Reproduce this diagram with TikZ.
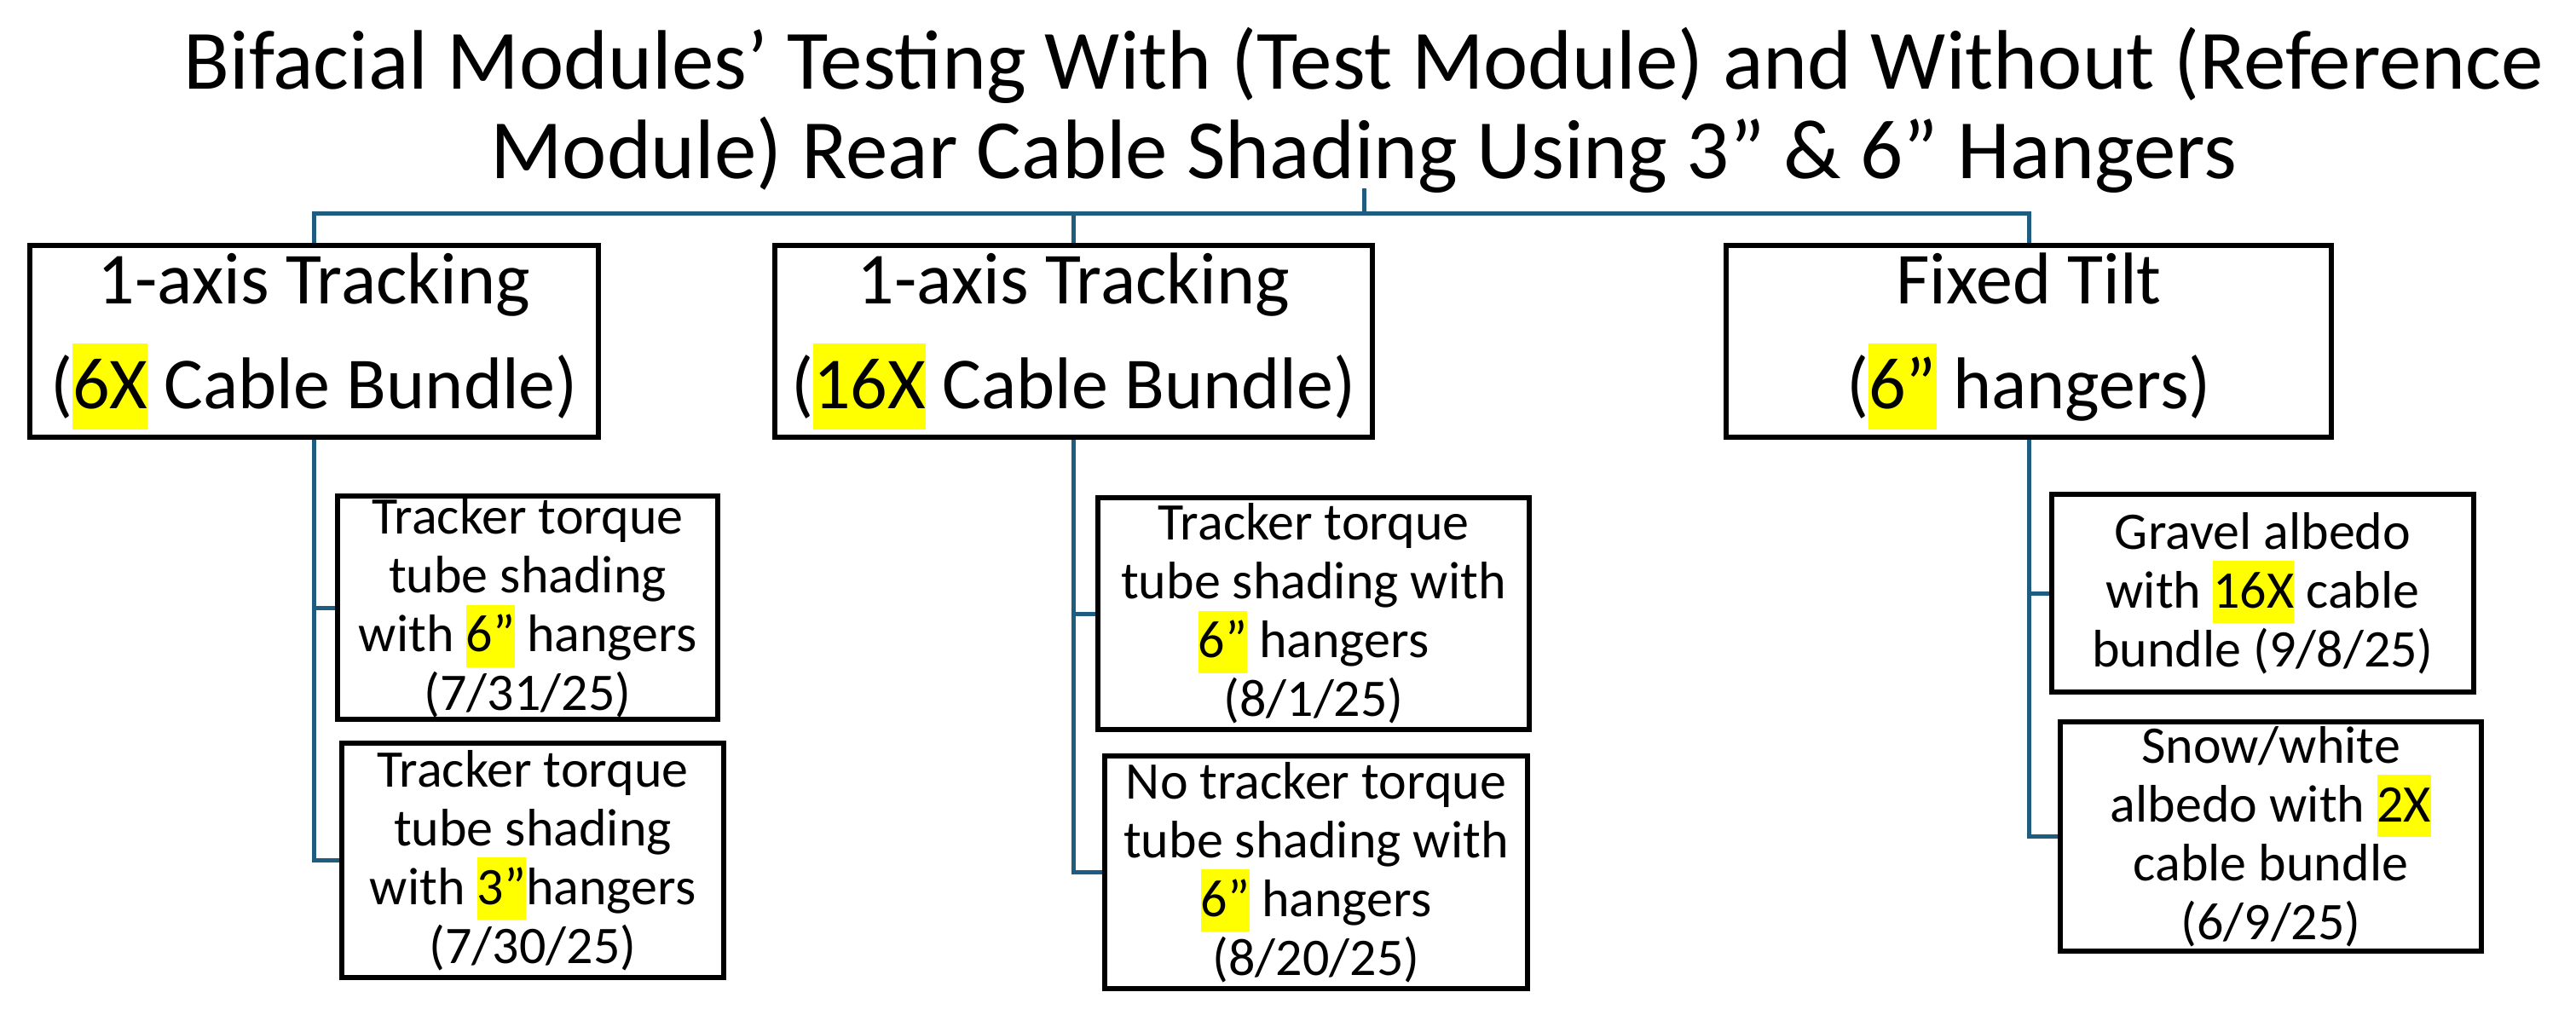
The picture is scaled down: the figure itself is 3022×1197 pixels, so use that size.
\documentclass[tikz,border=0pt]{standalone}
\usepackage{fontspec}
\setmainfont{Carlito}
\definecolor{conncol}{RGB}{31,93,128}
\definecolor{hly}{RGB}{255,255,0}
\newcommand{\hlbox}[1]{{\setlength{\fboxsep}{0pt}\colorbox{hly}{\rule[-0.29em]{0pt}{1.18em}#1}}}
\begin{document}
\begin{tikzpicture}[x=1pt,y=-1pt,
  conn/.style={draw=conncol, line width=5pt},
  parentbox/.style={draw=black, line width=6.5pt, fill=white, align=center, inner sep=0pt, font=\fontsize{86}{123}\selectfont},
  childbox/.style={draw=black, line width=6pt, fill=white, align=center, inner sep=0pt, font=\fontsize{62}{69}\selectfont},
  titletext/.style={align=center, inner sep=0pt, font=\fontsize{99}{105}\selectfont, text depth=11pt}]
\useasboundingbox (0,0) rectangle (3022,1197);

\node[titletext, anchor=south] (title) at (1600,221)
  {Bifacial Modules’ Testing With (Test Module) and Without (Reference\\Module) Rear Cable Shading Using 3” \& 6” Hangers};

\node[parentbox, minimum width=667pt, minimum height=225pt] (p1) at (368.5,400.5)
  {1-axis Tracking\\(\hlbox{6X} Cable Bundle)};
\node[parentbox, minimum width=701pt, minimum height=225pt] (p2) at (1259.5,400.5)
  {1-axis Tracking\\(\hlbox{16X} Cable Bundle)};
\node[parentbox, minimum width=710pt, minimum height=225pt] (p3) at (2380,400.5)
  {Fixed Tilt\\(\hlbox{6”} hangers)};

\node[childbox, minimum width=446pt, minimum height=262pt] (a1) at (619,713)
  {Tracker torque\\tube shading\\with \hlbox{6”} hangers\\(7/31/25)};
\node[childbox, minimum width=448pt, minimum height=275pt] (a2) at (625,1009.5)
  {Tracker torque\\tube shading\\with \hlbox{3”}hangers\\(7/30/25)};
\node[childbox, minimum width=506pt, minimum height=272pt] (b1) at (1541,720)
  {Tracker torque\\tube shading with\\\hlbox{6”} hangers\\(8/1/25)};
\node[childbox, minimum width=496pt, minimum height=273pt] (b2) at (1544,1023.5)
  {No tracker torque\\tube shading with\\\hlbox{6”} hangers\\(8/20/25)};
\node[childbox, minimum width=495pt, minimum height=232pt] (c1) at (2654.5,696)
  {Gravel albedo\\with \hlbox{16X} cable\\bundle (9/8/25)};
\node[childbox, minimum width=494pt, minimum height=269pt] (c2) at (2664,981.5)
  {Snow/white\\albedo with \hlbox{2X}\\cable bundle\\(6/9/25)};

\coordinate (bus) at (0,250);
\draw[conn] (p1.north) -- (p1.north |- bus) -- (p3.north |- bus) -- (p3.north);
\draw[conn] (title.south) -- (title.south |- bus);
\draw[conn] (p2.north) -- (p2.north |- bus);

\draw[conn] (p1.south) |- (a1.west);
\draw[conn] (p1.south) |- (a2.west);
\draw[conn] (p2.south) |- (b1.west);
\draw[conn] (p2.south) |- (b2.west);
\draw[conn] (p3.south) |- (c1.west);
\draw[conn] (p3.south) |- (c2.west);
\end{tikzpicture}
\end{document}
